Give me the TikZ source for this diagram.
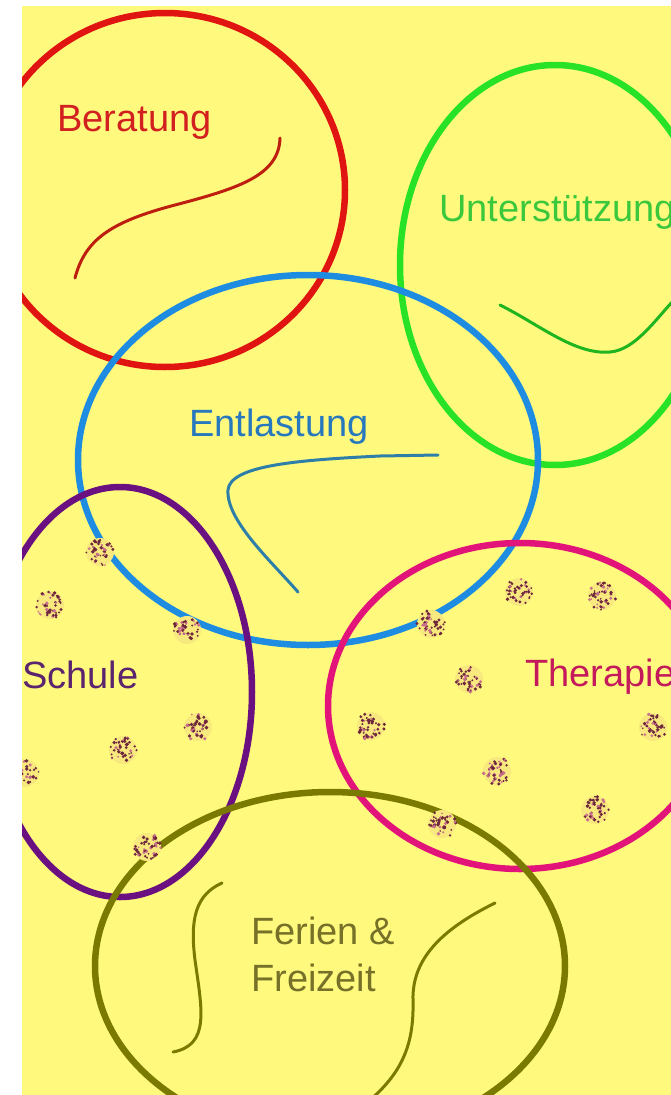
\documentclass[tikz,border=0pt]{standalone}
\usepackage{fontspec}
\setmainfont{Liberation Sans}
\definecolor{bgyel}{RGB}{255,250,125}
\definecolor{redc}{RGB}{224,20,16}
\definecolor{redsq}{RGB}{190,30,16}
\definecolor{redtx}{RGB}{210,32,32}
\definecolor{grnc}{RGB}{40,226,40}
\definecolor{grntx}{RGB}{60,200,60}
\definecolor{bluc}{RGB}{30,140,224}
\definecolor{blutx}{RGB}{40,120,190}
\definecolor{blusq}{RGB}{46,126,170}
\definecolor{purc}{RGB}{106,16,128}
\definecolor{purtx}{RGB}{90,36,110}
\definecolor{magc}{RGB}{226,20,122}
\definecolor{magtx}{RGB}{196,26,92}
\definecolor{olvc}{RGB}{122,122,0}
\definecolor{olvtx}{RGB}{118,112,40}
\definecolor{blobc}{RGB}{110,40,60}
\definecolor{blobp}{RGB}{200,110,140}
\tikzset{
  ring/.style={line width=6.5pt},
  squig/.style={line width=3pt, line cap=round},
  lbl/.style={inner sep=0pt, font=\fontsize{38}{46}\selectfont, anchor=base west}
}
\newcommand\dotblob[2]{%
  \fill[blobp!12!bgyel] (#1,#2) circle[radius=14pt];
  \foreach \k in {1,...,44}{%
    \pgfmathsetmacro\ang{rnd*360}%
    \pgfmathsetmacro\rad{3+rnd*11}%
    \pgfmathsetmacro\dr{0.9+rnd*1.1}%
    \pgfmathsetmacro\pk{rnd}%
    \ifdim\pk pt<0.3pt
      \fill[blobp,shift={(#1,#2)}] (\ang:\rad pt) circle[radius=\dr pt];
    \else
      \fill[blobc,shift={(#1,#2)}] (\ang:\rad pt) circle[radius=\dr pt];
    \fi
  }}
\begin{document}
\begin{tikzpicture}[x=1pt,y=-1pt]
\useasboundingbox (0,0) rectangle (671,1095);
\fill[white] (0,0) rectangle (671,1095);
\fill[bgyel] (22,6) rectangle (671,1095);
\begin{scope}
\clip (22,6) rectangle (671,1095);
% rings
\draw[ring, redc] (165,190) ellipse [x radius=180pt, y radius=177pt];
\draw[ring, grnc] (555,265) ellipse [x radius=155pt, y radius=200pt];
\draw[ring, bluc] (308,460) ellipse [x radius=230pt, y radius=185pt];
\draw[ring, purc] (120,692) ellipse [x radius=132pt, y radius=205pt];
\draw[ring, magc] (520,706) ellipse [x radius=192pt, y radius=163pt];
\draw[ring, olvc] (330,966) ellipse [x radius=235pt, y radius=174pt];
% squiggles
\draw[squig, redsq] (280,138) .. controls (279,175) and (240,188) .. (175,205)
  .. controls (110,222) and (85,240) .. (75,278);
\draw[squig, grnc!80!black] (500,305) .. controls (540,325) and (575,355) .. (610,352)
  .. controls (635,350) and (655,320) .. (674,300);
\draw[squig, blusq] (438,455) -- (380,456) .. controls (300,460) and (230,465) .. (228,490)
  .. controls (226,520) and (270,560) .. (298,592);
\draw[squig, olvc] (222,883) .. controls (195,895) and (190,920) .. (195,960)
  .. controls (202,1010) and (210,1045) .. (173,1052);
\draw[squig, olvc] (495,903) .. controls (440,930) and (412,960) .. (413,1000)
  .. controls (414,1040) and (405,1070) .. (370,1100);
% labels
\node[lbl, text=redtx] (beratung) at (57,131) {Beratung};
\node[lbl, text=grntx] (unterst) at (439,221) {Unterstützung};
\node[lbl, text=blutx] (entlast) at (189,436) {Entlastung};
\node[lbl, text=purtx] (schule) at (22,688) {Schule};
\node[lbl, text=magtx] (therapie) at (525,686) {Therapie};
\node[lbl, text=olvtx] (ferien) at (251,944) {Ferien \&};
\node[lbl, text=olvtx] (freizeit) at (251,991) {Freizeit};
% blobs
\pgfmathsetseed{7}
\dotblob{100}{552}
\dotblob{50}{605}
\dotblob{187}{630}
\dotblob{198}{727}
\dotblob{123}{750}
\dotblob{25}{773}
\dotblob{147}{847}
\dotblob{431}{624}
\dotblob{519}{592}
\dotblob{602}{596}
\dotblob{469}{679}
\dotblob{371}{726}
\dotblob{653}{727}
\dotblob{497}{771}
\dotblob{595}{810}
\dotblob{442}{824}
\end{scope}
\end{tikzpicture}
\end{document}
